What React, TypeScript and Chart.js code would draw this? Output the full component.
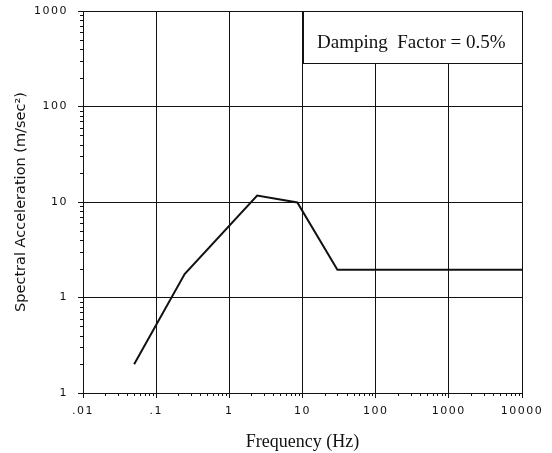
import React, { useEffect, useRef } from 'react';
import { Chart, registerables } from 'chart.js';

Chart.register(...registerables);

// ---- data ----
const frequencyHz = [0.05, 0.245, 2.4, 8.5, 30, 10000];
const spectralAccel = [0.2, 1.76, 11.7, 9.9, 1.95, 1.95];

const xTickValues = [0.01, 0.1, 1, 10, 100, 1000, 10000];
const xTickLabels = ['.01', '.1', '1', '10', '100', '1000', '10000'];
const yTickValues = [0.1, 1, 10, 100, 1000];
const yTickLabels = ['1', '1', '10', '100', '1000'];
const minorSteps = [2, 3, 4, 5, 6, 7, 8, 9];

const xTitle = 'Frequency (Hz)';
const yTitle = 'Spectral Acceleration (m/sec\u00B2)';

const noteText = 'Damping  Factor = 0.5%';
const noteFreqRange = [10, 10000];
const noteAccelRange = [285, 1000];

const INK = '#111';

const decorPlugin = {
  id: 'decor',
  beforeDraw(chart: any) {
    (chart.ctx as any).letterSpacing = '0px';
  },
  beforeDatasetsDraw(chart: any) {
    const ctx = chart.ctx;
    const xs = chart.scales.x;
    const ys = chart.scales.y;
    ctx.save();
    ctx.strokeStyle = INK;
    ctx.lineWidth = 1;
    ctx.beginPath();
    for (let i = 0; i < xTickValues.length - 1; i++) {
      for (const m of minorSteps) {
        const px = Math.round(xs.getPixelForValue(xTickValues[i] * m)) + 0.5;
        ctx.moveTo(px, ys.bottom);
        ctx.lineTo(px, ys.bottom + 3);
      }
    }
    for (let i = 0; i < yTickValues.length - 1; i++) {
      for (const m of minorSteps) {
        const py = Math.round(ys.getPixelForValue(yTickValues[i] * m)) + 0.5;
        ctx.moveTo(xs.left, py);
        ctx.lineTo(xs.left - 3, py);
      }
    }
    ctx.stroke();
    ctx.restore();
  },
  afterDatasetsDraw(chart: any) {
    const ctx = chart.ctx;
    const xs = chart.scales.x;
    const ys = chart.scales.y;
    const l = Math.round(xs.getPixelForValue(noteFreqRange[0]));
    const r = Math.round(xs.getPixelForValue(noteFreqRange[1]));
    const t = Math.round(ys.getPixelForValue(noteAccelRange[1]));
    const b = Math.round(ys.getPixelForValue(noteAccelRange[0]));
    ctx.save();
    ctx.fillStyle = '#fff';
    ctx.fillRect(l, t, r - l, b - t);
    ctx.strokeStyle = INK;
    ctx.lineWidth = 1;
    ctx.strokeRect(l + 0.5, t + 0.5, r - l, b - t);
    ctx.fillStyle = INK;
    ctx.font = '19px "Liberation Serif"';
    ctx.textAlign = 'left';
    ctx.textBaseline = 'alphabetic';
    ctx.fillText(noteText, l + 14, t + 37);
    ctx.restore();
    // tick labels (z = 1 layers) are drawn after this with wider spacing
    (ctx as any).letterSpacing = '1.5px';
  },
  afterDraw(chart: any) {
    (chart.ctx as any).letterSpacing = '0px';
  },
};

export default function App() {
  const canvasRef = useRef<HTMLCanvasElement | null>(null);

  useEffect(() => {
    const canvas = canvasRef.current;
    if (!canvas) return;
    const chart = new Chart(canvas, {
      type: 'scatter',
      data: {
        datasets: [
          {
            data: frequencyHz.map((f, i) => ({ x: f, y: spectralAccel[i] })),
            showLine: true,
            borderColor: INK,
            borderWidth: 2,
            pointRadius: 0,
            pointHoverRadius: 0,
            tension: 0,
          },
        ],
      },
      options: {
        responsive: false,
        animation: false,
        layout: { autoPadding: false, padding: { top: 11, right: 30, left: 0, bottom: 0 } },
        plugins: {
          legend: { display: false },
          tooltip: { enabled: false },
        },
        scales: {
          x: {
            type: 'logarithmic',
            min: 0.01,
            max: 10000,
            afterBuildTicks: (s: any) => {
              s.ticks = xTickValues.map((v) => ({ value: v }));
            },
            afterFit: (s: any) => {
              s.height = 60;
              s.paddingLeft = 0;
              s.paddingRight = 0;
            },
            ticks: {
              z: 1,
              autoSkip: false,
              maxRotation: 0,
              padding: 7,
              color: INK,
              font: { family: 'DejaVu Sans', size: 11 },
              callback: (_v: any, i: number) => xTickLabels[i],
            },
            grid: { color: INK, lineWidth: 1, tickLength: 5 },
            border: { color: INK, width: 1 },
            title: {
              display: true,
              text: xTitle,
              color: INK,
              font: { family: 'Liberation Serif', size: 18 },
              padding: { top: 0, bottom: 0 },
            },
          },
          y: {
            type: 'logarithmic',
            min: 0.1,
            max: 1000,
            afterBuildTicks: (s: any) => {
              s.ticks = yTickValues.map((v) => ({ value: v }));
            },
            afterFit: (s: any) => {
              s.width = 83;
              s.paddingTop = 0;
              s.paddingBottom = 0;
            },
            ticks: {
              z: 1,
              autoSkip: false,
              padding: 10,
              color: INK,
              font: { family: 'DejaVu Sans', size: 11 },
              callback: (_v: any, i: number) => yTickLabels[i],
            },
            grid: { color: INK, lineWidth: 1, tickLength: 5 },
            border: { color: INK, width: 1 },
            title: {
              display: true,
              text: yTitle,
              color: INK,
              font: { family: 'DejaVu Sans', size: 14.5 },
              padding: { top: 13, bottom: 0 },
            },
          },
        },
      },
      plugins: [decorPlugin],
    } as any);
    return () => chart.destroy();
  }, []);

  return (
    <div style={{ position: 'absolute', left: 0, top: 0, width: 552, height: 453, background: '#fff' }}>
      <canvas ref={canvasRef} width={552} height={453} style={{ width: 552, height: 453 }} />
    </div>
  );
}
